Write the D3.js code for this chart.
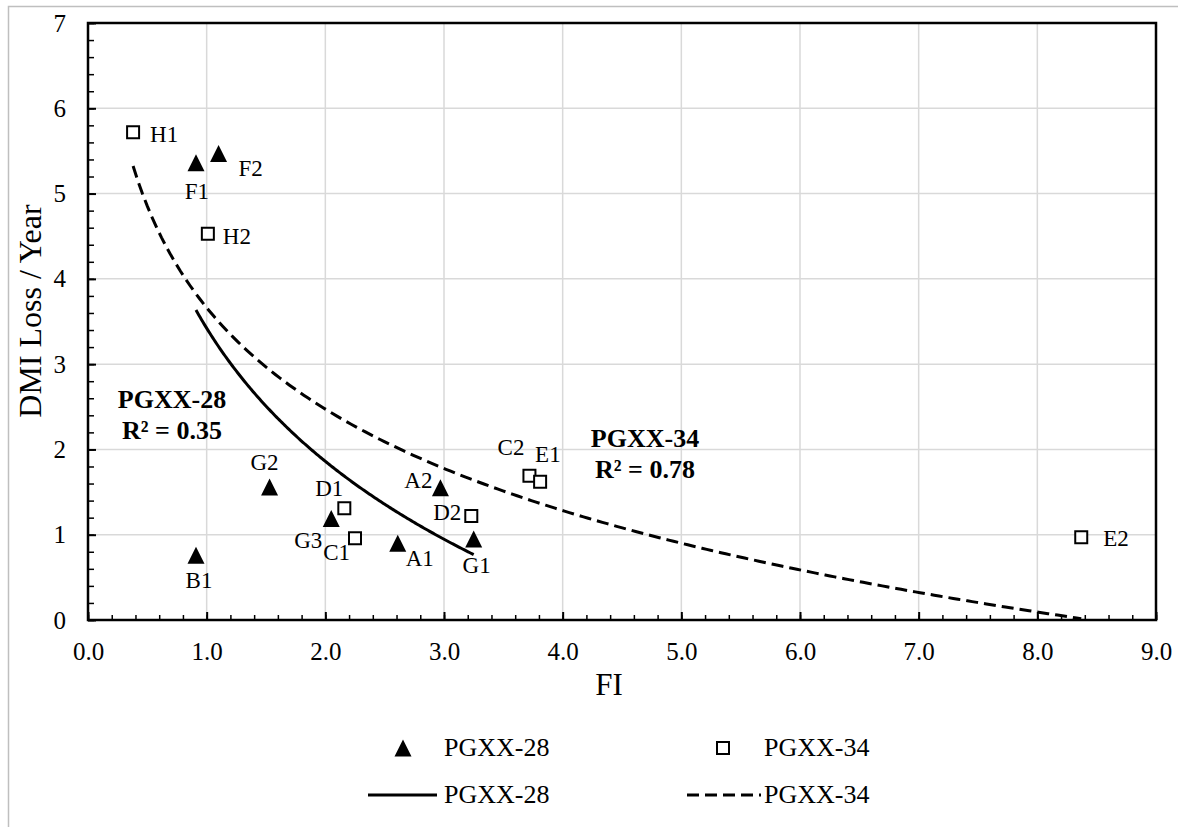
<!DOCTYPE html>
<html>
<head>
    <meta charset="utf-8">
    <title>DMI Loss vs FI</title>
    <script src="https://cdnjs.cloudflare.com/ajax/libs/d3/7.8.5/d3.min.js"></script>
    <style>
        body { margin: 0; background: #fff; }
        text { font-family: "Liberation Serif", "Times New Roman", serif; fill: #000; }
    </style>
</head>
<body>
    <div id="chart"></div>
    <script>
        // PGXX-28 (triangles)
        const names28 = ["F1", "F2", "B1", "G2", "G3", "A1", "A2", "G1"];
        const fi28 = [0.91, 1.10, 0.91, 1.53, 2.05, 2.61, 2.97, 3.25];
        const dmi28 = [5.36, 5.47, 0.76, 1.56, 1.19, 0.90, 1.55, 0.95];

        // PGXX-34 (squares)
        const names34 = ["H1", "H2", "D1", "C1", "D2", "C2", "E1", "E2"];
        const fi34 = [0.38, 1.01, 2.16, 2.25, 3.23, 3.72, 3.81, 8.37];
        const dmi34 = [5.72, 4.53, 1.31, 0.96, 1.22, 1.69, 1.62, 0.97];

        const seriesNames = ["PGXX-28", "PGXX-34"];
        const r2Labels = ["R\u00b2 = 0.35", "R\u00b2 = 0.78"];
        const xTicks = [0, 1, 2, 3, 4, 5, 6, 7, 8, 9];
        const yTicks = [0, 1, 2, 3, 4, 5, 6, 7];

        // where each point label sits relative to its marker
        const labelPos = {
            F1: ["middle", 1, 36], F2: ["start", 20, 23], B1: ["middle", 3, 33],
            G2: ["middle", -5, -17], G3: ["end", -9, 29], A1: ["start", 8, 23],
            A2: ["end", -8, 0], G1: ["middle", 3, 34],
            H1: ["start", 17, 10], H2: ["start", 15, 10], D1: ["end", -1, -12],
            C1: ["end", -5, 22], D2: ["end", -10, 4], C2: ["end", -5, -21],
            E1: ["start", -5, -20], E2: ["start", 22, 9]
        };

        const width = 1178, height = 827;
        const plotL = 88, plotR = 1156, plotT = 23, plotB = 620;

        const svg = d3.select("#chart").append("svg")
            .attr("width", width)
            .attr("height", height);

        // chart area frame
        svg.append("rect")
            .attr("x", 8.5).attr("y", 6.5)
            .attr("width", 1300).attr("height", 1000)
            .attr("fill", "#fff")
            .attr("stroke", "#bfbfbf")
            .attr("stroke-width", 1.5);

        const x = d3.scaleLinear().domain([0, 9]).range([plotL, plotR]);
        const y = d3.scaleLinear().domain([0, 7]).range([plotB, plotT]);

        // gridlines
        svg.append("g").selectAll("line").data(xTicks.slice(1, -1)).join("line")
            .attr("x1", d => x(d)).attr("x2", d => x(d))
            .attr("y1", plotT).attr("y2", plotB)
            .attr("stroke", "#d9d9d9").attr("stroke-width", 1.5);
        svg.append("g").selectAll("line").data(yTicks.slice(1, -1)).join("line")
            .attr("x1", plotL).attr("x2", plotR)
            .attr("y1", d => y(d)).attr("y2", d => y(d))
            .attr("stroke", "#d9d9d9").attr("stroke-width", 1.5);

        // minor ticks every 0.2
        const minorX = d3.range(0, 9.001, 0.2);
        const minorY = d3.range(0, 7.001, 0.2);
        svg.append("g")
            .attr("transform", `translate(0,${plotB})`)
            .call(d3.axisBottom(x).tickValues(minorX).tickSize(-5).tickFormat(""))
            .call(g => g.select(".domain").remove())
            .selectAll("line").attr("stroke-width", 1.5);
        svg.append("g")
            .attr("transform", `translate(${plotL},0)`)
            .call(d3.axisLeft(y).tickValues(minorY).tickSize(-6).tickFormat(""))
            .call(g => g.select(".domain").remove())
            .selectAll("line").attr("stroke-width", 1.5);

        // major axes
        const xAxis = svg.append("g")
            .attr("transform", `translate(0,${plotB})`)
            .call(d3.axisBottom(x).tickValues(xTicks).tickSize(-8).tickPadding(22).tickFormat(d3.format(".1f")));
        xAxis.select(".domain").remove();
        xAxis.selectAll("line").attr("stroke-width", 2);
        xAxis.selectAll("text").attr("font-size", 25).style("font-family", "Liberation Serif");

        const yAxis = svg.append("g")
            .attr("transform", `translate(${plotL},0)`)
            .call(d3.axisLeft(y).tickValues(yTicks).tickSize(-8).tickPadding(22).tickFormat(d3.format("d")));
        yAxis.select(".domain").remove();
        yAxis.selectAll("line").attr("stroke-width", 2);
        yAxis.selectAll("text").attr("font-size", 25).style("font-family", "Liberation Serif");

        // plot box
        svg.append("rect")
            .attr("x", plotL).attr("y", plotT)
            .attr("width", plotR - plotL).attr("height", plotB - plotT)
            .attr("fill", "none")
            .attr("stroke", "#000")
            .attr("stroke-width", 2.5);

        // logarithmic trendlines y = a*ln(x) + b, fitted to each series
        function logFit(xs, ys) {
            const lx = xs.map(Math.log);
            const mx = d3.mean(lx), my = d3.mean(ys);
            const sxy = d3.sum(lx, (v, i) => (v - mx) * (ys[i] - my));
            const sxx = d3.sum(lx, v => (v - mx) * (v - mx));
            const a = sxy / sxx;
            const b = my - a * mx;
            const [x0, x1] = d3.extent(xs);
            return d3.range(0, 201).map(i => {
                const xv = x0 + (x1 - x0) * i / 200;
                return [xv, a * Math.log(xv) + b];
            });
        }

        const line = d3.line().x(d => x(d[0])).y(d => y(d[1]));

        svg.append("path")
            .attr("d", line(logFit(fi28, dmi28)))
            .attr("fill", "none").attr("stroke", "#000")
            .attr("stroke-width", 3);
        svg.append("path")
            .attr("d", line(logFit(fi34, dmi34)))
            .attr("fill", "none").attr("stroke", "#000")
            .attr("stroke-width", 3)
            .attr("stroke-dasharray", "12,6");

        // markers
        const triangleType = {
            draw(ctx, size) {
                const r = Math.sqrt(size) / 2;
                ctx.moveTo(0, -r);
                ctx.lineTo(r, r);
                ctx.lineTo(-r, r);
                ctx.closePath();
            }
        };
        const tri = d3.symbol().type(triangleType).size(17 * 17);
        const sq = d3.symbol().type(d3.symbolSquare).size(12 * 12);

        const pts28 = names28.map((n, i) => ({ n, fi: fi28[i], v: dmi28[i] }));
        const pts34 = names34.map((n, i) => ({ n, fi: fi34[i], v: dmi34[i] }));

        svg.append("g").selectAll("path").data(pts28).join("path")
            .attr("transform", d => `translate(${x(d.fi)},${y(d.v)})`)
            .attr("d", tri())
            .attr("fill", "#000");

        svg.append("g").selectAll("path").data(pts34).join("path")
            .attr("transform", d => `translate(${x(d.fi)},${y(d.v)})`)
            .attr("d", sq())
            .attr("fill", "#fff").attr("stroke", "#000").attr("stroke-width", 2);

        // point labels
        svg.append("g").selectAll("text").data(pts28.concat(pts34)).join("text")
            .attr("x", d => x(d.fi) + labelPos[d.n][1])
            .attr("y", d => y(d.v) + labelPos[d.n][2])
            .attr("text-anchor", d => labelPos[d.n][0])
            .attr("font-size", 23)
            .text(d => d.n);

        // fit annotations
        const notes = [[172, 408], [645, 447]];
        notes.forEach((p, i) => {
            const t = svg.append("text")
                .attr("x", p[0]).attr("y", p[1])
                .attr("text-anchor", "middle")
                .attr("font-size", 26)
                .attr("font-weight", "bold");
            t.append("tspan").attr("x", p[0]).text(seriesNames[i]);
            t.append("tspan").attr("x", p[0]).attr("dy", 31).text(r2Labels[i]);
        });

        // axis titles
        svg.append("text")
            .attr("x", 609).attr("y", 695)
            .attr("text-anchor", "middle")
            .attr("font-size", 31)
            .text("FI");
        svg.append("text")
            .attr("transform", "translate(41,311) rotate(-90)")
            .attr("text-anchor", "middle")
            .attr("font-size", 32)
            .text("DMI Loss / Year");

        // legend
        const legend = svg.append("g");
        const cols = [403, 723];
        const row1 = 748, row2 = 795;
        legend.append("path").attr("d", tri()).attr("transform", `translate(${cols[0]},${row1})`).attr("fill", "#000");
        legend.append("path").attr("d", sq()).attr("transform", `translate(${cols[1]},${row1})`)
            .attr("fill", "#fff").attr("stroke", "#000").attr("stroke-width", 2);
        legend.append("line")
            .attr("x1", cols[0] - 35).attr("x2", cols[0] + 34)
            .attr("y1", row2).attr("y2", row2)
            .attr("stroke", "#000").attr("stroke-width", 3);
        legend.append("line")
            .attr("x1", cols[1] - 36).attr("x2", cols[1] + 38)
            .attr("y1", row2).attr("y2", row2)
            .attr("stroke", "#000").attr("stroke-width", 3)
            .attr("stroke-dasharray", "12,6");
        [row1, row2].forEach(ry => {
            seriesNames.forEach((s, i) => {
                legend.append("text")
                    .attr("x", cols[i] + 41).attr("y", ry + 8)
                    .attr("font-size", 26)
                    .text(s);
            });
        });
    </script>
</body>
</html>
